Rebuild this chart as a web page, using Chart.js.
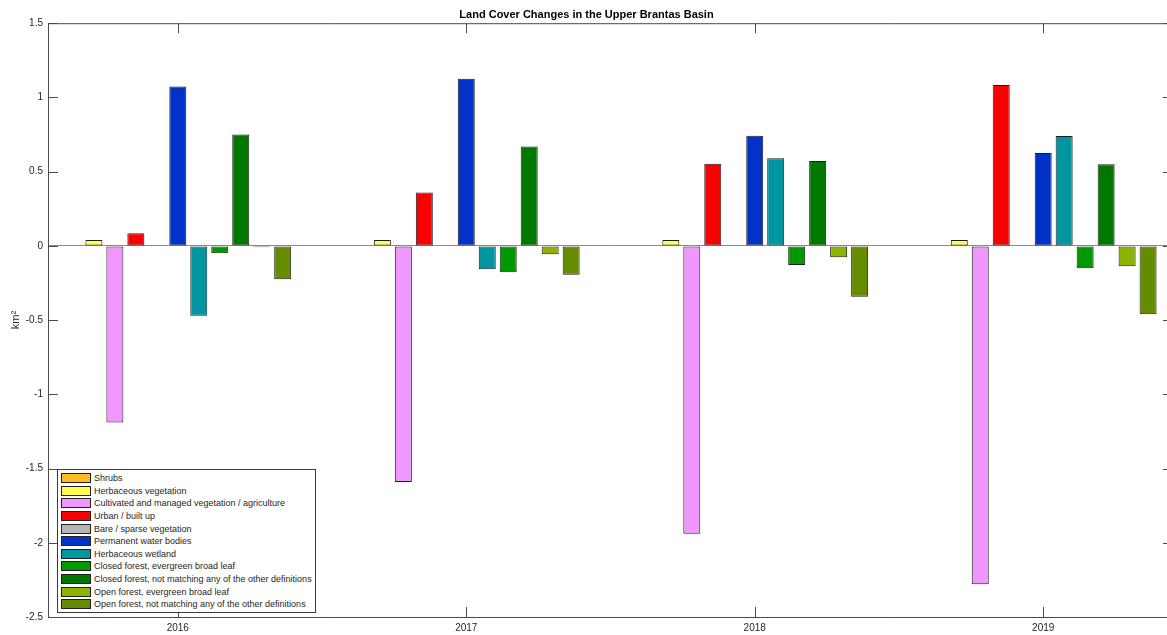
<!DOCTYPE html>
<html>
<head>
<meta charset="utf-8">
<script src="https://cdn.jsdelivr.net/npm/chart.js@4/dist/chart.umd.min.js"></script>
<style>
  html, body { margin: 0; padding: 0; background: #fff; overflow: hidden; }
  #wrap { position: relative; width: 1167px; height: 635px; overflow: hidden; }
  #legend {
    position: absolute; left: 57px; top: 469px; width: 257px;
    border: 1px solid #3a3a3a; background: #fff; padding: 2px 0 1px 0;
    font-family: "Liberation Sans", Arial, sans-serif; font-size: 9px; color: #262626;
  }
  #legend .row { height: 12.6px; display: flex; align-items: center; }
  #legend .sw { width: 28px; height: 8px; border: 1px solid #222; margin: 0 3px 0 3px; }
</style>
</head>
<body>
<div id="wrap">
  <canvas id="barChart" width="1221" height="635"></canvas>
  <div id="legend"></div>
</div>
<script>
var years = ["2016", "2017", "2018", "2019"];

var classNames = [
  "Shrubs",
  "Herbaceous vegetation",
  "Cultivated and managed vegetation / agriculture",
  "Urban / built up",
  "Bare / sparse vegetation",
  "Permanent water bodies",
  "Herbaceous wetland",
  "Closed forest, evergreen broad leaf",
  "Closed forest, not matching any of the other definitions",
  "Open forest, evergreen broad leaf",
  "Open forest, not matching any of the other definitions"
];

var classColors = ["#FFBB22", "#FFFF4C", "#F096FF", "#FA0000", "#B4B4B4", "#0032C8",
                   "#0096A0", "#009900", "#007800", "#8DB400", "#648C00"];

// change per year (km2), one array per class
var shrubs      = [0, 0, 0, 0];
var herbaceous  = [0.04, 0.04, 0.04, 0.04];
var cultivated  = [-1.19, -1.59, -1.94, -2.28];
var urban       = [0.085, 0.36, 0.553, 1.083];
var bare        = [0, 0, 0, 0];
var water       = [1.073, 1.125, 0.741, 0.625];
var wetland     = [-0.47, -0.157, 0.591, 0.74];
var closedEBL   = [-0.049, -0.178, -0.128, -0.15];
var closedOther = [0.75, 0.67, 0.571, 0.55];
var openEBL     = [-0.01, -0.056, -0.076, -0.137];
var openOther   = [-0.225, -0.195, -0.342, -0.46];

var yTicks = [-2.5, -2, -1.5, -1, -0.5, 0, 0.5, 1, 1.5];

var allSeries = [shrubs, herbaceous, cultivated, urban, bare, water,
                 wetland, closedEBL, closedOther, openEBL, openOther];

var datasets = allSeries.map(function (vals, k) {
  return {
    label: classNames[k],
    backgroundColor: classColors[k],
    borderColor: "#1e1e1e",
    borderWidth: 1,
    borderSkipped: false,
    data: vals.map(function (v, i) { return {x: i + 1, y: v}; })
  };
});

// matlab style frame with inward ticks
var frame = {
  id: "frame",
  afterDraw: function (chart) {
    var c = chart.ctx, a = chart.chartArea;
    var xs = chart.scales.x, ys = chart.scales.y;
    c.save();
    c.strokeStyle = "#4a4a4a";
    c.lineWidth = 1;
    c.beginPath();
    c.moveTo(a.left + 0.5, a.top + 0.5);
    c.lineTo(a.right + 0.5, a.top + 0.5);
    c.lineTo(a.right + 0.5, a.bottom + 0.5);
    c.lineTo(a.left + 0.5, a.bottom + 0.5);
    c.closePath();
    yTicks.forEach(function (t) {
      var p = Math.round(ys.getPixelForValue(t)) + 0.5;
      c.moveTo(a.left, p); c.lineTo(a.left + 10, p);
      c.moveTo(a.right, p); c.lineTo(a.right - 10, p);
    });
    years.forEach(function (y, i) {
      var p = Math.round(xs.getPixelForValue(i + 1)) + 0.5;
      c.moveTo(p, a.bottom); c.lineTo(p, a.bottom - 10);
      c.moveTo(p, a.top); c.lineTo(p, a.top + 10);
    });
    c.stroke();
    c.restore();
  }
};

Chart.defaults.font.family = '"Liberation Sans", Arial, sans-serif';
Chart.defaults.color = "#262626";

var ctx = document.getElementById("barChart").getContext("2d");
var chart = new Chart(ctx, {
  type: "bar",
  data: { datasets: datasets },
  plugins: [frame],
  options: {
    responsive: false,
    animation: false,
    layout: { padding: { left: 0, right: 48, top: 0, bottom: 0 } },
    categoryPercentage: 0.8,
    barPercentage: 0.81,
    plugins: {
      legend: { display: false },
      tooltip: { enabled: false },
      title: {
        display: true,
        text: "Land Cover Changes in the Upper Brantas Basin",
        font: { size: 11, weight: "bold" },
        color: "#000",
        padding: { top: 8, bottom: 2 }
      }
    },
    scales: {
      x: {
        type: "linear",
        offset: false,
        min: 0.55,
        max: 4.45,
        grid: { display: false, drawTicks: false },
        border: { display: false },
        afterBuildTicks: function (scale) {
          scale.ticks = years.map(function (y, i) { return {value: i + 1}; });
        },
        afterFit: function (scale) { scale.height = 18; },
        ticks: {
          font: { size: 10 },
          padding: 5,
          maxRotation: 0,
          callback: function (v) { return years[v - 1]; }
        }
      },
      y: {
        min: -2.5,
        max: 1.5,
        afterBuildTicks: function (scale) {
          scale.ticks = yTicks.map(function (t) { return {value: t}; });
        },
        afterFit: function (scale) { scale.width = 48; },
        grid: {
          drawTicks: false,
          color: function (c) { return c.tick && c.tick.value === 0 ? "#8a8a8a" : "rgba(0,0,0,0)"; }
        },
        border: { display: false },
        ticks: {
          font: { size: 10 },
          padding: 5,
          callback: function (v) { return String(v); }
        },
        title: {
          display: true,
          text: "km\u00B2",
          font: { size: 11 },
          padding: { top: 9, bottom: 0 }
        }
      }
    }
  }
});

// legend box in the lower left, built from the chart's datasets
var box = document.getElementById("legend");
chart.data.datasets.forEach(function (ds) {
  var row = document.createElement("div");
  row.className = "row";
  var sw = document.createElement("span");
  sw.className = "sw";
  sw.style.background = ds.backgroundColor;
  var tx = document.createElement("span");
  tx.textContent = ds.label;
  row.appendChild(sw);
  row.appendChild(tx);
  box.appendChild(row);
});
</script>
</body>
</html>
